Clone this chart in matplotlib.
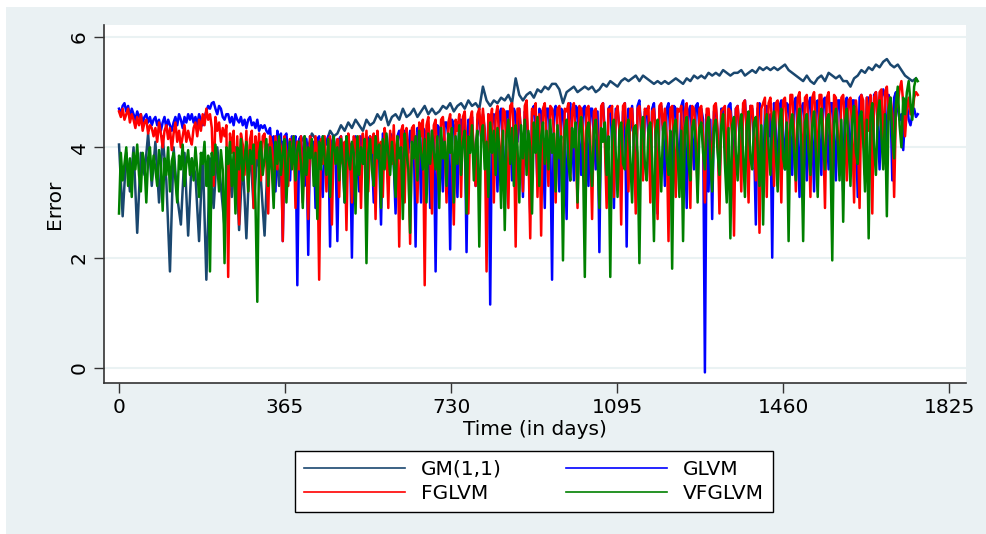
import numpy as np
import matplotlib
matplotlib.use('Agg')
import matplotlib.pyplot as plt
from matplotlib.patches import Rectangle

# GM(1,1) is read every 8 days, the other three models every 4 days
gm_days = np.arange(0, 1760, 8)
days = np.arange(0, 1760, 4)

gm11 = [4.05, 2.75, 3.9, 3.2, 4.0, 2.45, 3.9, 3.5, 4.25, 3.3,
        4.1, 3.0, 4.2, 3.4, 1.75, 4.0, 3.1, 2.6, 3.9, 2.4,
        3.8, 3.5, 2.3, 3.9, 1.6, 3.8, 2.9, 4.0, 3.3, 2.55,
        3.9, 3.1, 4.0, 2.5, 3.8, 2.35, 4.05, 2.9, 3.9, 3.4,
        2.4, 4.05, 3.6, 4.1, 3.3, 4.1, 3.8, 4.15, 3.7, 4.1,
        4.1, 4.2, 4.0, 4.25, 4.15, 3.9, 4.2, 4.1, 4.3, 4.2,
        4.25, 4.4, 4.3, 4.45, 4.35, 4.5, 4.4, 4.3, 4.5, 4.4,
        4.45, 4.6, 4.5, 4.65, 4.4, 4.55, 4.6, 4.5, 4.7, 4.55,
        4.6, 4.7, 4.55, 4.65, 4.75, 4.6, 4.7, 4.6, 4.65, 4.75,
        4.7, 4.8, 4.65, 4.75, 4.8, 4.7, 4.85, 4.75, 4.8, 4.7,
        5.1, 4.85, 4.75, 4.85, 4.8, 4.9, 4.85, 4.95, 4.8, 5.25,
        4.95, 4.85, 4.95, 5.0, 4.9, 5.05, 5.0, 5.1, 5.05, 5.15,
        5.15, 5.05, 4.8, 5.0, 5.05, 5.1, 5.0, 5.05, 5.1, 5.05,
        5.1, 5.0, 5.05, 5.15, 5.1, 5.2, 5.15, 5.1, 5.2, 5.25,
        5.2, 5.25, 5.3, 5.2, 5.3, 5.25, 5.2, 5.15, 5.2, 5.15,
        5.2, 5.15, 5.2, 5.25, 5.2, 5.15, 5.25, 5.2, 5.3, 5.25,
        5.3, 5.25, 5.35, 5.3, 5.35, 5.3, 5.4, 5.35, 5.3, 5.35,
        5.35, 5.4, 5.3, 5.35, 5.4, 5.35, 5.45, 5.4, 5.45, 5.4,
        5.45, 5.4, 5.45, 5.5, 5.4, 5.35, 5.3, 5.25, 5.2, 5.3,
        5.2, 5.15, 5.25, 5.3, 5.2, 5.35, 5.3, 5.25, 5.3, 5.2,
        5.2, 5.1, 5.25, 5.3, 5.4, 5.35, 5.45, 5.4, 5.5, 5.45,
        5.55, 5.6, 5.5, 5.45, 5.5, 5.4, 5.3, 5.25, 5.2, 5.25]

glvm = [4.7, 4.6, 4.75, 4.8, 4.65, 4.75, 4.55, 4.7, 4.6, 4.5, 4.65, 4.55, 4.6, 4.45, 4.55, 4.6, 4.45, 4.55, 4.4, 4.5,
        4.55, 4.4, 4.5, 4.3, 4.45, 4.55, 4.35, 4.5, 4.4, 4.3, 4.45, 4.55, 4.4, 4.6, 4.5, 4.35, 4.55, 4.45, 4.6, 4.5,
        4.6, 4.45, 4.55, 4.4, 4.6, 4.5, 4.4, 4.55, 4.65, 4.75, 4.7, 4.8, 4.82, 4.7, 4.6, 4.75, 4.7, 4.55, 4.5, 4.6,
        4.6, 4.45, 4.55, 4.4, 4.6, 4.5, 4.45, 4.55, 4.4, 4.5, 4.35, 4.5, 4.55, 4.4, 4.45, 4.35, 4.5, 4.3, 4.4, 4.35,
        4.4, 4.3, 4.25, 4.35, 3.9, 4.2, 3.2, 4.3, 4.1, 4.25, 2.3, 4.2, 4.25, 3.8, 3.4, 4.2, 4.1, 4.2, 1.5, 4.15,
        4.2, 3.7, 3.3, 4.15, 2.05, 4.2, 4.0, 4.1, 2.9, 4.15, 4.2, 3.6, 3.1, 4.15, 4.05, 4.2, 2.2, 4.1, 4.2, 3.9,
        2.3, 4.15, 4.2, 3.8, 3.0, 4.2, 4.1, 4.05, 2.0, 4.15, 4.2, 3.7, 3.2, 4.2, 4.1, 4.0, 2.7, 4.15, 4.2, 3.9,
        3.0, 4.2, 4.15, 3.8, 2.6, 4.25, 4.2, 4.0, 3.3, 4.25, 4.2, 3.7, 2.8, 4.2, 4.3, 4.1, 3.1, 4.3, 4.2, 3.9,
        4.3, 4.1, 4.2, 2.2, 4.35, 4.2, 3.0, 4.35, 4.3, 3.8, 4.4, 2.9, 4.3, 4.2, 1.75, 4.4, 4.35, 3.9, 3.2, 4.45,
        4.45, 4.2, 2.15, 4.5, 4.4, 3.9, 3.1, 4.5, 4.5, 4.1, 4.45, 2.1, 4.5, 4.4, 4.55, 3.8, 3.3, 4.5, 4.55, 4.2,
        4.6, 4.3, 3.0, 4.6, 1.15, 4.55, 4.6, 4.2, 3.2, 4.6, 4.7, 4.0, 2.9, 4.65, 4.65, 4.3, 3.4, 4.7, 4.6, 4.1,
        4.7, 4.2, 3.1, 4.65, 4.6, 4.0, 2.8, 4.65, 4.75, 4.3, 3.3, 4.7, 4.65, 4.1, 2.9, 4.7, 4.7, 4.2, 1.6, 4.65,
        4.75, 4.3, 3.2, 4.7, 4.65, 4.0, 2.7, 4.7, 4.8, 4.3, 3.4, 4.75, 4.7, 4.1, 3.5, 4.7, 4.75, 4.2, 3.3, 4.7,
        4.7, 4.2, 3.6, 4.65, 2.1, 4.7, 4.8, 4.3, 3.3, 4.7, 4.75, 4.1, 2.9, 4.7, 4.7, 4.35, 3.4, 4.65, 4.8, 2.2,
        4.7, 4.3, 4.75, 4.0, 3.2, 4.75, 4.85, 4.3, 3.6, 4.65, 4.7, 4.2, 3.4, 4.7, 4.8, 4.1, 2.8, 4.7, 4.75, 4.3,
        3.3, 4.7, 4.8, 4.2, 3.5, 4.75, 4.7, 4.1, 3.5, 4.75, 4.85, 4.3, 2.9, 4.65, 4.75, 4.2, 3.6, 4.75, 4.8, 4.3,
        4.7, 4.5, -0.08, 4.6, 3.2, 4.5, 2.7, 4.65, 4.75, 4.2, 3.3, 4.7, 4.7, 4.1, 3.5, 4.75, 4.8, 4.3, 3.4, 4.7,
        4.75, 4.2, 3.6, 4.7, 4.85, 4.3, 3.4, 4.75, 4.7, 4.1, 2.6, 4.7, 4.8, 4.3, 3.2, 4.7, 4.75, 4.2, 4.6, 2.0,
        4.8, 4.3, 3.3, 4.75, 4.85, 4.2, 3.6, 4.8, 4.75, 4.3, 3.5, 4.8, 4.9, 4.2, 3.1, 4.7, 4.8, 4.4, 3.4, 4.8,
        4.9, 4.3, 3.2, 4.8, 4.85, 4.2, 3.5, 4.85, 4.9, 4.3, 3.6, 4.8, 4.8, 4.2, 3.4, 4.85, 4.85, 4.3, 3.2, 4.8,
        4.9, 4.4, 3.5, 4.85, 4.85, 4.3, 3.1, 4.9, 4.95, 4.4, 3.6, 4.9, 4.9, 4.3, 3.3, 4.95, 5.0, 4.4, 3.6, 4.9,
        5.05, 4.9, 3.8, 4.95, 4.8, 3.4, 4.9, 5.0, 4.7, 4.5, 4.6, 3.95, 4.6, 4.8, 4.5, 4.4, 4.6, 4.7, 4.55, 4.6]

fglvm = [4.65, 4.55, 4.7, 4.5, 4.6, 4.7, 4.45, 4.6, 4.5, 4.35, 4.55, 4.4, 4.6, 4.3, 4.45, 4.5, 4.25, 4.4, 4.35, 4.2,
         4.35, 4.1, 4.45, 4.25, 4.0, 4.3, 4.4, 4.15, 4.35, 3.95, 4.25, 4.45, 4.1, 4.3, 4.0, 4.2, 4.4, 4.1, 4.3, 4.15,
         4.05, 4.35, 4.45, 4.2, 4.5, 4.3, 4.6, 4.4, 4.7, 4.5, 4.6, 4.35, 3.3, 4.55, 4.3, 4.45, 4.1, 4.35, 4.2, 4.4,
         1.65, 4.25, 3.9, 4.3, 3.0, 4.2, 2.6, 4.25, 4.05, 3.5, 4.3, 3.2, 4.15, 4.3, 2.9, 4.2, 3.8, 4.25, 3.4, 4.2,
         4.25, 3.7, 2.8, 4.2, 4.05, 3.1, 4.2, 3.6, 4.15, 4.0, 2.3, 4.2, 3.9, 3.3, 4.15, 3.8, 4.2, 2.9, 4.1, 3.6,
         4.2, 3.0, 4.15, 3.8, 2.7, 4.2, 4.05, 3.5, 4.2, 3.9, 1.6, 4.15, 3.7, 4.2, 3.2, 4.1, 4.2, 2.6, 4.15, 3.8,
         4.15, 3.1, 4.2, 3.7, 4.1, 2.5, 4.25, 3.9, 3.0, 4.2, 4.1, 3.6, 4.2, 2.9, 4.25, 3.8, 4.3, 3.2, 4.2, 3.9,
         4.25, 2.7, 4.3, 3.8, 4.1, 3.1, 4.35, 4.0, 2.9, 4.3, 3.7, 4.4, 3.5, 4.2, 2.2, 4.3, 4.4, 3.0, 4.35, 3.9,
         2.25, 4.35, 4.4, 3.8, 3.0, 4.45, 4.2, 4.5, 1.5, 4.4, 4.55, 3.9, 2.8, 4.4, 4.5, 3.6, 3.2, 4.5, 4.55, 4.1,
         3.0, 4.45, 4.6, 3.9, 2.6, 4.5, 4.3, 4.6, 3.1, 4.55, 4.65, 4.0, 2.8, 4.5, 4.65, 3.8, 3.3, 4.6, 4.7, 4.2,
         4.7, 4.3, 1.75, 4.6, 4.4, 4.7, 3.0, 4.55, 4.75, 4.1, 3.3, 4.7, 4.65, 3.9, 2.9, 4.75, 4.8, 4.3, 2.2, 4.7,
         4.7, 4.2, 3.2, 4.75, 4.85, 4.0, 2.35, 4.7, 4.6, 4.8, 3.1, 4.6, 2.4, 4.7, 4.8, 4.1, 3.3, 4.75, 4.7, 4.3,
         3.0, 4.7, 4.75, 4.2, 2.8, 4.7, 4.65, 4.8, 3.4, 4.65, 4.8, 4.1, 2.9, 4.75, 4.7, 4.3, 3.2, 4.7, 4.75, 4.2,
         2.7, 4.65, 4.7, 4.2, 3.3, 4.75, 4.8, 4.1, 2.9, 4.7, 4.65, 4.75, 3.1, 4.6, 4.75, 4.3, 2.6, 4.75, 4.8, 4.2,
         3.2, 4.7, 4.7, 4.1, 2.8, 4.7, 4.75, 4.3, 3.4, 4.7, 4.6, 4.75, 3.0, 4.65, 4.7, 4.2, 2.7, 4.75, 4.8, 4.3,
         4.7, 4.2, 2.3, 4.7, 4.75, 4.1, 3.1, 4.7, 4.65, 4.75, 3.3, 4.65, 4.8, 4.2, 2.9, 4.75, 4.7, 4.3, 3.2, 4.7,
         4.75, 4.2, 3.0, 4.7, 4.7, 4.1, 3.4, 4.75, 4.8, 4.3, 2.8, 4.65, 4.7, 4.75, 3.3, 4.7, 4.65, 4.2, 2.4, 4.7,
         4.75, 4.3, 3.2, 4.8, 4.85, 4.2, 3.0, 4.75, 4.75, 4.3, 3.4, 4.8, 2.45, 4.7, 4.8, 4.9, 3.1, 4.8, 4.9, 4.4,
         3.3, 4.8, 4.85, 4.3, 3.0, 4.85, 4.9, 4.4, 3.5, 4.95, 4.95, 4.3, 3.2, 4.9, 5.0, 4.4, 3.4, 4.9, 4.95, 4.3,
         3.1, 4.9, 5.0, 4.4, 3.6, 4.95, 4.95, 4.3, 2.9, 4.9, 5.0, 4.4, 3.3, 4.95, 4.9, 4.3, 3.5, 4.9, 4.95, 4.4,
         3.4, 4.85, 4.9, 4.3, 3.0, 4.85, 4.4, 2.9, 4.95, 4.85, 3.5, 4.9, 4.3, 4.95, 2.8, 4.9, 5.0, 4.4, 5.0, 5.05,
         3.8, 5.0, 5.1, 4.5, 4.9, 4.6, 3.1, 4.7, 4.8, 5.05, 5.2, 4.8, 4.2, 4.7, 4.9, 4.6, 4.6, 4.9, 5.0, 4.95]

vfglvm = [2.8, 3.9, 3.4, 3.7, 4.0, 3.3, 3.8, 3.1, 3.9, 3.6, 4.05, 3.5, 3.2, 3.9, 3.7, 3.0, 3.8, 4.0, 3.4, 3.85,
          3.6, 3.3, 3.95, 3.7, 2.85, 3.8, 3.5, 4.0, 3.2, 3.75, 3.9, 3.4, 3.0, 3.85, 3.6, 4.05, 3.3, 3.7, 3.95, 3.5,
          3.8, 3.4, 4.0, 3.6, 3.1, 3.9, 3.7, 4.1, 3.3, 3.85, 1.75, 3.9, 3.5, 4.05, 3.7, 3.2, 3.95, 3.6, 1.9, 4.0,
          3.7, 4.1, 3.3, 3.9, 2.8, 4.0, 3.6, 4.15, 3.4, 3.8, 4.1, 3.2, 3.95, 3.7, 4.05, 3.0, 1.2, 3.9, 4.1, 3.5,
          3.8, 4.15, 3.3, 4.0, 3.6, 2.9, 4.1, 3.7, 4.2, 3.5, 3.9, 4.15, 3.0, 3.8, 4.1, 3.6, 4.2, 3.4, 3.95, 4.1,
          3.7, 2.9, 4.2, 3.5, 4.0, 3.8, 4.15, 3.3, 3.9, 2.7, 4.1, 3.6, 4.2, 3.8, 3.5, 4.15, 3.1, 3.9, 4.2, 3.7,
          4.0, 3.4, 4.15, 3.7, 3.0, 4.2, 3.8, 3.6, 4.1, 3.9, 2.8, 4.2, 3.5, 4.0, 3.7, 4.15, 1.9, 3.9, 4.15, 3.6,
          3.3, 4.2, 3.8, 4.05, 2.9, 4.15, 3.6, 4.25, 3.9, 3.5, 4.1, 3.7, 3.1, 4.2, 3.8, 4.0, 2.7, 4.25, 3.9, 3.6,
          2.45, 4.1, 3.8, 4.2, 3.4, 4.3, 3.9, 3.6, 4.15, 3.0, 4.25, 3.7, 4.3, 3.9, 3.6, 4.2, 2.9, 4.35, 3.8, 4.1,
          3.3, 4.25, 3.9, 4.35, 3.0, 4.2, 3.7, 4.4, 3.5, 4.1, 4.3, 2.8, 4.2, 3.9, 4.4, 3.4, 4.05, 4.3, 2.2, 4.2,
          4.4, 3.6, 4.1, 3.1, 4.45, 3.9, 4.3, 3.5, 4.35, 4.0, 2.9, 4.3, 2.5, 4.2, 4.5, 3.7, 4.35, 3.3, 4.4, 4.0,
          3.0, 4.4, 3.8, 4.5, 3.5, 4.3, 4.0, 2.8, 4.45, 3.9, 4.55, 3.3, 4.2, 4.45, 3.7, 4.3, 3.6, 4.5, 3.9, 4.25,
          3.2, 4.4, 3.8, 4.2, 1.95, 4.3, 4.5, 3.7, 3.4, 4.35, 4.0, 4.45, 3.0, 4.3, 4.55, 3.8, 1.65, 4.3, 4.45, 3.9,
          3.3, 4.3, 4.5, 3.8, 2.9, 4.35, 4.1, 4.45, 3.5, 4.2, 1.65, 4.35, 4.5, 3.9, 3.1, 4.3, 4.45, 3.7, 3.6, 4.35,
          4.5, 3.8, 3.0, 4.35, 4.4, 3.9, 1.9, 4.3, 4.55, 3.7, 3.4, 4.35, 4.45, 3.8, 2.3, 4.3, 4.5, 3.9, 3.2, 4.35,
          4.45, 3.8, 3.5, 4.3, 1.8, 4.35, 4.5, 3.9, 3.1, 4.3, 2.3, 4.35, 4.55, 3.7, 3.4, 4.35, 4.5, 4.0, 3.0, 4.35,
          4.45, 3.9, 3.6, 4.4, 4.55, 3.8, 3.2, 4.35, 4.5, 3.9, 3.5, 4.4, 4.6, 3.7, 3.0, 4.35, 2.35, 4.4, 4.55, 3.9,
          3.4, 4.35, 4.6, 3.9, 3.1, 4.4, 4.65, 3.8, 3.6, 4.45, 4.55, 4.0, 3.3, 4.4, 2.6, 4.35, 4.6, 4.0, 3.5, 4.45,
          4.65, 3.9, 3.2, 4.45, 4.7, 3.8, 3.6, 4.45, 2.3, 4.4, 4.6, 3.9, 3.4, 4.45, 4.7, 4.0, 2.3, 4.45, 4.6, 3.9,
          3.5, 4.4, 4.65, 3.9, 3.1, 4.45, 4.7, 4.0, 3.6, 4.5, 4.6, 3.9, 1.95, 4.45, 4.7, 4.1, 3.4, 4.5, 2.65, 4.45,
          4.7, 4.0, 3.3, 4.5, 4.75, 3.9, 3.7, 4.55, 4.65, 4.1, 3.2, 4.5, 2.35, 4.55, 4.8, 4.0, 3.5, 4.6, 4.85, 4.2,
          3.6, 4.6, 2.75, 4.7, 4.9, 4.2, 3.8, 4.8, 5.1, 4.4, 4.0, 4.9, 4.6, 5.0, 5.2, 4.8, 4.5, 5.1, 5.25, 5.2]

xticks = [0, 365, 730, 1095, 1460, 1825]
yticks = [0, 2, 4, 6]

W, H = 986, 534
fig = plt.figure(figsize=(W / 100, H / 100), dpi=100, facecolor='white')
# light panel behind everything
fig.patches.append(Rectangle((6 / W, 0), 1, 1 - 7 / H, transform=fig.transFigure,
                             facecolor='#EAF1F3', edgecolor='none', zorder=-10))

ax = fig.add_axes([104 / W, 151 / H, 862 / W, 358 / H])
ax.set_facecolor('white')

l1, = ax.plot(gm_days, gm11, color='#1A476F', lw=1.8, label='GM(1,1)')
l2, = ax.plot(days, glvm, color='#0000FF', lw=1.8, label='GLVM')
l3, = ax.plot(days, fglvm, color='#FF0000', lw=1.8, label='FGLVM')
l4, = ax.plot(days, vfglvm, color='#008000', lw=1.8, label='VFGLVM')

ax.set_xlim(-33, 1862)
ax.set_ylim(-0.272, 6.217)
ax.set_xticks(xticks)
ax.set_yticks(yticks)
ax.set_yticklabels([str(v) for v in yticks], rotation=90, va='center')

ax.yaxis.grid(True, color='#EAF2F3', lw=1.5)
ax.set_axisbelow(True)

for s in ['top', 'right']:
    ax.spines[s].set_visible(False)
for s in ['left', 'bottom']:
    ax.spines[s].set_color('#333333')
    ax.spines[s].set_linewidth(1.2)

ax.tick_params(axis='both', length=7, width=1, color='#333333', labelsize=14.5)
ax.tick_params(axis='y', pad=4)
ax.tick_params(axis='x', pad=3.5)

ax.set_xlabel('Time (in days)', fontsize=14.5, labelpad=2.5)
ax.set_ylabel('Error', fontsize=14.5, labelpad=4)

leg = fig.legend([l1, l3, l2, l4], ['GM(1,1)', 'FGLVM', 'GLVM', 'VFGLVM'],
                 ncol=2, loc='center', bbox_to_anchor=(534 / W, 1 - 481.5 / H),
                 frameon=True, fancybox=False, edgecolor='black', framealpha=1,
                 handlelength=5, columnspacing=3.2, handletextpad=0.8,
                 borderpad=0.45, labelspacing=0.25, fontsize=14.5)
leg.get_frame().set_linewidth(1.0)
for ln in leg.get_lines():
    ln.set_linewidth(1.2)

fig.savefig('out.png', dpi=100, facecolor=fig.get_facecolor())
